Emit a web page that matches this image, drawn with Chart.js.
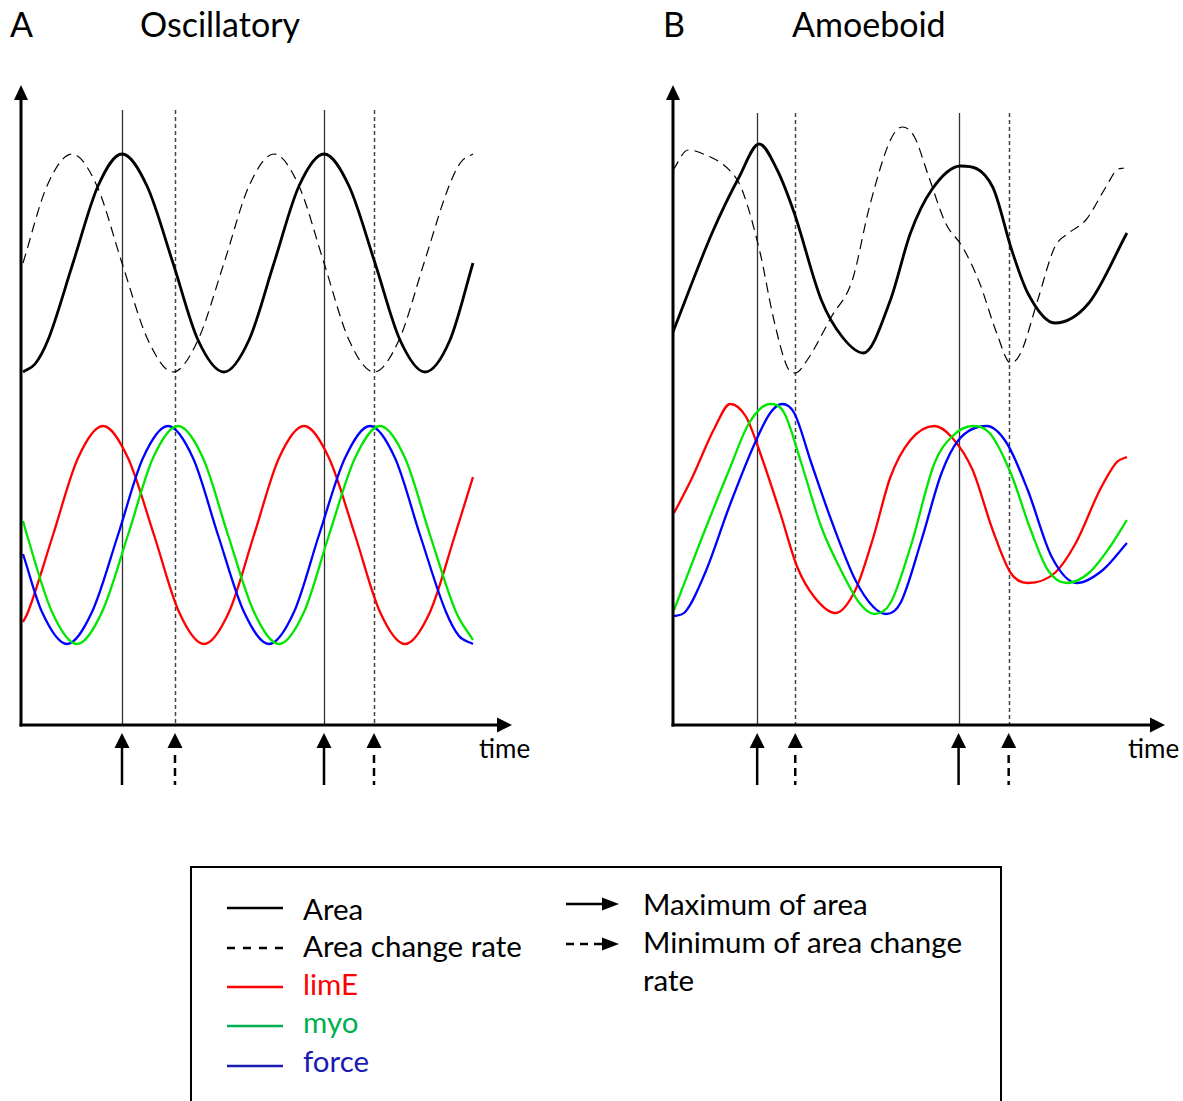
<!DOCTYPE html>
<html>
<head>
<meta charset="utf-8">
<script src="https://cdn.jsdelivr.net/npm/chart.js@4/dist/chart.umd.min.js"></script>
<style>
  html, body { margin: 0; padding: 0; width: 1183px; height: 1101px; overflow: hidden; background: #fff; }
  body { position: relative; font-family: Lato, "Open Sans", sans-serif; color: #000; }
  .txt { position: absolute; white-space: nowrap; line-height: 1; }
  .lg { font-size: 29.5px; }
  canvas { position: absolute; }
  #legend { position: absolute; left: 190px; top: 866px; width: 808px; height: 260px; border: 2px solid #000; }
  #legend svg { position: absolute; left: 0; top: 0; }
</style>
</head>
<body>
<div class="txt" style="left:10px;top:7px;font-size:34px;">A</div>
<div class="txt" style="left:140px;top:7px;font-size:34px;">Oscillatory</div>
<div class="txt" style="left:663px;top:7px;font-size:34px;">B</div>
<div class="txt" style="left:792px;top:7px;font-size:34px;">Amoeboid</div>
<div class="txt" style="left:479px;top:735px;font-size:26px;">time</div>
<div class="txt" style="left:1128px;top:735px;font-size:26px;">time</div>

<canvas id="chartA" width="590" height="740" style="left:0;top:60px;"></canvas>
<canvas id="chartB" width="583" height="740" style="left:600px;top:60px;"></canvas>

<div id="legend">
  <svg width="808" height="240">
    <line x1="35" y1="40" x2="91" y2="40" stroke="#000" stroke-width="2.5"/>
    <line x1="35" y1="80" x2="93" y2="80" stroke="#000" stroke-width="2.5" stroke-dasharray="8,8"/>
    <line x1="35" y1="119" x2="91" y2="119" stroke="#ff0000" stroke-width="2.5"/>
    <line x1="35" y1="158" x2="91" y2="158" stroke="#00b050" stroke-width="2.5"/>
    <line x1="35" y1="198" x2="91" y2="198" stroke="#1a1ab4" stroke-width="2.5"/>
    <line x1="374" y1="36" x2="412" y2="36" stroke="#000" stroke-width="2.5"/>
    <polygon points="410,29.5 427,36 410,42.5" fill="#000"/>
    <line x1="374" y1="76" x2="412" y2="76" stroke="#000" stroke-width="2.5" stroke-dasharray="8,6"/>
    <polygon points="410,69.5 427,76 410,82.5" fill="#000"/>
  </svg>
</div>
<div class="txt lg" style="left:303px;top:894px;">Area</div>
<div class="txt lg" style="left:303px;top:931px;">Area change rate</div>
<div class="txt lg" style="left:303px;top:969px;color:#ff0000;">limE</div>
<div class="txt lg" style="left:303px;top:1007px;color:#00b050;">myo</div>
<div class="txt lg" style="left:303px;top:1046px;color:#1a1ab4;">force</div>
<div class="txt lg" style="left:643px;top:889px;">Maximum of area</div>
<div class="txt lg" style="left:643px;top:927px;">Minimum of area change</div>
<div class="txt lg" style="left:643px;top:965px;">rate</div>

<script>
// ---- Panel A: oscillatory cell (time, signal level) ----
const tA_area  = [2, 14, 27, 52, 77, 101, 126, 152, 177, 203, 228, 253, 278, 303, 328, 354, 379, 404, 429, 452];
const vA_area  = [353, 361, 385, 462, 539, 571, 539, 462, 385, 353, 385, 462, 539, 571, 539, 462, 385, 353, 385, 462];
const tA_rate  = [2, 26, 51, 76, 101, 127, 152, 177, 203, 228, 253, 278, 303, 328, 353, 378, 403, 428, 440, 452];
const vA_rate  = [462, 539, 571, 539, 462, 385, 353, 385, 462, 539, 571, 539, 462, 385, 353, 385, 462, 539, 563, 571];
const tA_limE  = [2, 7, 32, 57, 82, 107, 133, 158, 183, 208, 233, 258, 283, 308, 334, 359, 384, 409, 434, 452];
const vA_limE  = [103, 113, 190, 267, 299, 267, 190, 113, 81, 113, 190, 267, 299, 267, 190, 113, 81, 113, 190, 248];
const tA_myo   = [2, 6, 31, 56, 81, 107, 132, 157, 182, 207, 233, 258, 283, 308, 334, 359, 384, 409, 435, 452];
const vA_myo   = [204, 190, 113, 81, 113, 190, 267, 299, 267, 190, 113, 81, 113, 190, 267, 299, 267, 190, 113, 85];
const tA_force = [2, 21, 46, 71, 97, 122, 147, 172, 197, 223, 248, 273, 298, 324, 349, 374, 399, 425, 438, 452];
const vA_force = [171, 113, 81, 113, 190, 267, 299, 267, 190, 113, 81, 113, 190, 267, 299, 267, 190, 113, 89, 81];
const tA_maxArea = [101, 303];   // maxima of area
const tA_minRate = [154, 353];   // minima of area change rate

// ---- Panel B: amoeboid cell ----
const tB_area  = [0, 39, 66, 86, 104, 121, 148, 169, 190, 217, 237, 258, 287, 319, 338, 354, 381, 415, 453];
const vB_area  = [393, 492, 548, 581, 555, 512, 425, 388, 372, 425, 492, 535, 559, 538, 475, 432, 402, 422, 492];
const tB_rate  = [0, 15, 28, 59, 69, 87, 100, 114, 122, 134, 158, 179, 196, 217, 229, 241, 254, 272, 289, 306, 323, 337, 347, 364, 381, 395, 412, 432, 443, 450];
const vB_rate  = [555, 575, 572, 552, 535, 472, 408, 358, 352, 365, 408, 445, 518, 585, 598, 588, 552, 502, 478, 442, 392, 362, 372, 425, 478, 492, 505, 538, 555, 557];
const tB_limE  = [1, 18, 42, 57, 73, 87, 107, 124, 141, 162, 182, 200, 217, 237, 261, 278, 299, 319, 337, 354, 381, 402, 426, 443, 453];
const vB_limE  = [212, 245, 298, 321, 308, 272, 212, 158, 128, 112, 135, 188, 248, 285, 299, 288, 255, 195, 152, 142, 152, 182, 235, 263, 268];
const tB_myo   = [1, 28, 56, 76, 97, 111, 128, 148, 169, 186, 201, 217, 237, 261, 278, 299, 316, 337, 357, 374, 393, 415, 436, 453];
const vB_myo   = [115, 185, 255, 302, 321, 312, 262, 198, 152, 122, 111, 122, 178, 262, 288, 299, 292, 252, 195, 155, 142, 152, 178, 205];
const tB_force = [1, 11, 32, 56, 80, 97, 109, 121, 138, 159, 182, 200, 213, 227, 248, 268, 285, 313, 333, 354, 378, 403, 429, 453];
const vB_force = [109, 112, 152, 218, 278, 312, 321, 312, 262, 202, 145, 118, 111, 122, 185, 252, 285, 299, 282, 235, 168, 142, 155, 182];
const tB_maxArea = [84, 285];
const tB_minRate = [122, 335];

const T_MAX = 491;   // length of the time axis
const V_MAX = 640;   // height of the signal axis

function pts(t, v) { return t.map((x, i) => ({ x: x, y: v[i] })); }

function series(t, v, color, width, dash) {
  return { data: pts(t, v), borderColor: color, borderWidth: width, borderDash: dash || [],
           pointRadius: 0, fill: false, cubicInterpolationMode: 'monotone' };
}

// axes with arrowheads, event markers and their arrows below the time axis
function markerPlugin(maxT, minT, lineTop) {
  return {
    id: 'markers',
    beforeDatasetsDraw(chart) {
      const { ctx, scales: { x, y } } = chart;
      const yTop = y.getPixelForValue(lineTop), yBot = y.getPixelForValue(0);
      ctx.save();
      ctx.lineWidth = 1.3;
      ctx.strokeStyle = '#333';
      maxT.forEach(t => {
        const px = Math.round(x.getPixelForValue(t)) + 0.5;
        ctx.beginPath(); ctx.moveTo(px, yTop); ctx.lineTo(px, yBot); ctx.stroke();
      });
      ctx.strokeStyle = '#444';
      ctx.lineWidth = 1.5;
      ctx.setLineDash([4, 3]);
      minT.forEach(t => {
        const px = Math.round(x.getPixelForValue(t)) + 0.5;
        ctx.beginPath(); ctx.moveTo(px, yTop); ctx.lineTo(px, yBot); ctx.stroke();
      });
      ctx.restore();
    },
    afterDatasetsDraw(chart) {
      const { ctx, chartArea: a, scales: { x } } = chart;
      ctx.save();
      ctx.fillStyle = '#000';
      ctx.strokeStyle = '#000';
      ctx.lineWidth = 3;
      // vertical axis
      ctx.beginPath(); ctx.moveTo(a.left, a.bottom + 1.5); ctx.lineTo(a.left, a.top + 14); ctx.stroke();
      ctx.beginPath(); ctx.moveTo(a.left, a.top); ctx.lineTo(a.left - 7, a.top + 15); ctx.lineTo(a.left + 7, a.top + 15); ctx.closePath(); ctx.fill();
      // time axis
      ctx.beginPath(); ctx.moveTo(a.left - 1.5, a.bottom); ctx.lineTo(a.right - 13, a.bottom); ctx.stroke();
      ctx.beginPath(); ctx.moveTo(a.right, a.bottom); ctx.lineTo(a.right - 15, a.bottom - 7.5); ctx.lineTo(a.right - 15, a.bottom + 7.5); ctx.closePath(); ctx.fill();
      // arrows under the axis
      const arrow = (t, dashed) => {
        const px = x.getPixelForValue(t);
        const tip = a.bottom + 8, base = a.bottom + 23, end = a.bottom + 60;
        ctx.beginPath(); ctx.moveTo(px, tip); ctx.lineTo(px - 7.5, base); ctx.lineTo(px + 7.5, base); ctx.closePath(); ctx.fill();
        ctx.lineWidth = 2.5;
        ctx.setLineDash(dashed ? [8, 5] : []);
        ctx.beginPath(); ctx.moveTo(px, dashed ? base + 7 : base - 1); ctx.lineTo(px, end); ctx.stroke();
        ctx.setLineDash([]);
      };
      maxT.forEach(t => arrow(t, false));
      minT.forEach(t => arrow(t, true));
      ctx.restore();
    }
  };
}

function makeChart(id, pad, sets, maxT, minT, lineTop) {
  return new Chart(document.getElementById(id), {
    type: 'line',
    data: { datasets: sets },
    options: {
      responsive: false,
      animation: false,
      layout: { padding: pad },
      scales: {
        x: { type: 'linear', min: 0, max: T_MAX, display: false },
        y: { type: 'linear', min: 0, max: V_MAX, display: false }
      },
      plugins: { legend: { display: false }, tooltip: { enabled: false } }
    },
    plugins: [markerPlugin(maxT, minT, lineTop)]
  });
}

const RED = '#ff0000', GREEN = '#00e600', BLUE = '#0000ff';

makeChart('chartA', { left: 21, top: 25, right: 78, bottom: 75 }, [
  series(tA_myo, vA_myo, GREEN, 2.3),
  series(tA_force, vA_force, BLUE, 2.3),
  series(tA_limE, vA_limE, RED, 2.3),
  series(tA_rate, vA_rate, '#000', 1.2, [10, 6]),
  series(tA_area, vA_area, '#000', 2.8)
], tA_maxArea, tA_minRate, 615);

makeChart('chartB', { left: 73, top: 25, right: 18, bottom: 75 }, [
  series(tB_myo, vB_myo, GREEN, 2.3),
  series(tB_force, vB_force, BLUE, 2.3),
  series(tB_limE, vB_limE, RED, 2.3),
  series(tB_rate, vB_rate, '#000', 1.2, [10, 6]),
  series(tB_area, vB_area, '#000', 2.8)
], tB_maxArea, tB_minRate, 612);
</script>
</body>
</html>
